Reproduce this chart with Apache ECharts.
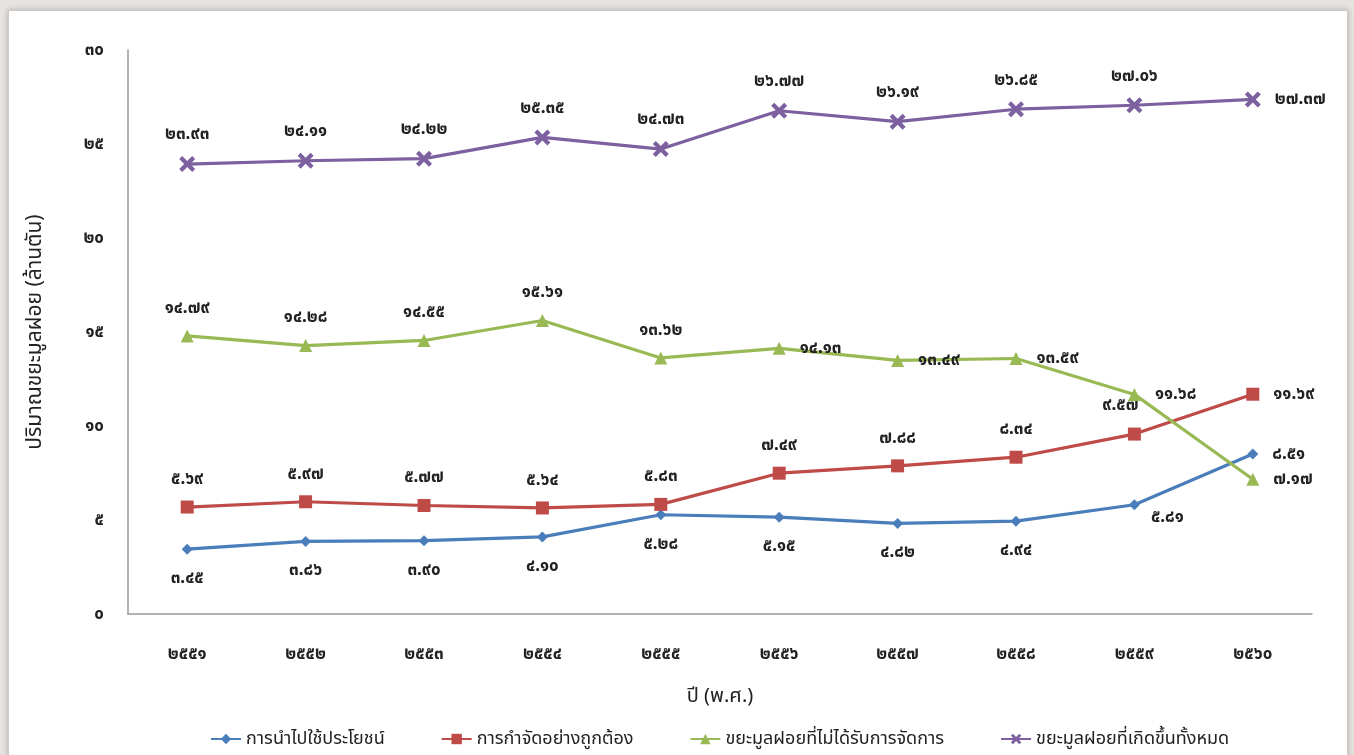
<!DOCTYPE html>
<html>
<head>
<meta charset="utf-8">
<script src="https://cdn.jsdelivr.net/npm/echarts@6/dist/echarts.min.js"></script>
<style>
  html, body { margin: 0; padding: 0; width: 1354px; height: 755px; overflow: hidden; background: #e6e3e0; }
  #frame { position: absolute; left: 8px; top: 10px; width: 1338px; height: 760px; background: #fff;
           border: 1px solid #cfcac5; box-shadow: 0 0 6px rgba(0,0,0,0.25); }
  #chart { position: absolute; left: 0; top: 0; width: 1354px; height: 755px; }
</style>
</head>
<body>
<div id="frame"></div>
<div id="chart"></div>
<script>
const categories = ['๒๕๕๑','๒๕๕๒','๒๕๕๓','๒๕๕๔','๒๕๕๕','๒๕๕๖','๒๕๕๗','๒๕๕๘','๒๕๕๙','๒๕๖๐'];
const seriesNames = ['การนำไปใช้ประโยชน์','การกำจัดอย่างถูกต้อง','ขยะมูลฝอยที่ไม่ได้รับการจัดการ','ขยะมูลฝอยที่เกิดขึ้นทั้งหมด'];
const utilized  = [3.45, 3.86, 3.90, 4.10, 5.28, 5.15, 4.82, 4.94, 5.81, 8.51];
const disposed  = [5.69, 5.97, 5.77, 5.64, 5.83, 7.49, 7.88, 8.34, 9.57, 11.69];
const unmanaged = [14.79, 14.28, 14.55, 15.61, 13.62, 14.13, 13.49, 13.59, 11.68, 7.17];
const total     = [23.93, 24.11, 24.22, 25.35, 24.73, 26.77, 26.19, 26.85, 27.06, 27.37];
const yTicks = [0, 5, 10, 15, 20, 25, 30];

const thaiDigits = ['๐','๑','๒','๓','๔','๕','๖','๗','๘','๙'];
function toThai(s) { return String(s).replace(/[0-9]/g, d => thaiDigits[+d]); }
function fmt(v) { return toThai(v.toFixed(2)); }

const FONT = "'Noto Sans', 'Noto Sans Thai', 'Garuda', 'Loma', sans-serif";
const colors = ['#4a7ebb', '#be4b48', '#98b954', '#7d60a0'];

// label placements (style only)
const labelPos = [
  ['bottom','bottom','bottom','bottom','bottom','bottom','bottom','bottom','bottomRight','right'],
  ['top','top','top','top','top','top','top','top','topLeft','right'],
  ['top','top','top','top','top','right','right','right','right','right'],
  ['top','top','top','top','top','top','top','top','top','right']
];
const posMap = {
  top: {position: 'top', distance: 13},
  bottom: {position: 'bottom', distance: 15},
  right: {position: 'right', distance: 14},
  bottomRight: {position: 'right', offset: [6, 12]},
  topLeft: {position: 'top', offset: [-14, -2], distance: 12}
};

const xPath = 'path://M3,0 L8,5 L13,0 L16,3 L11,8 L16,13 L13,16 L8,11 L3,16 L0,13 L5,8 L0,3 Z';
const symbols = ['diamond', 'rect', 'triangle', xPath];
const symbolSizes = [11, 13, 13, 16];
const dataSets = [utilized, disposed, unmanaged, total];

const series = dataSets.map((arr, si) => ({
  name: seriesNames[si],
  type: 'line',
  data: arr.map((v, i) => ({ value: v, label: Object.assign({}, posMap[labelPos[si][i]]) })),
  symbol: symbols[si],
  symbolSize: symbolSizes[si],
  showAllSymbol: true,
  lineStyle: { width: 3.2, color: colors[si] },
  itemStyle: { color: colors[si] },
  label: {
    show: true,
    formatter: p => fmt(p.value),
    fontFamily: FONT, fontSize: 17, fontWeight: 'bold', color: '#222'
  },
  emphasis: { disabled: true },
  animation: false,
  z: 2 + si
}));

const chart = echarts.init(document.getElementById('chart'), null, { renderer: 'canvas' });
chart.setOption({
  backgroundColor: 'transparent',
  color: colors,
  animation: false,
  grid: { left: 128, right: 42, top: 50, bottom: 141, containLabel: false },
  xAxis: {
    type: 'category',
    data: categories,
    boundaryGap: true,
    name: 'ปี (พ.ศ.)',
    nameLocation: 'middle',
    nameGap: 72,
    nameTextStyle: { fontFamily: FONT, fontSize: 20, color: '#222' },
    axisLine: { lineStyle: { color: '#9a9a9a', width: 1.5 } },
    axisTick: { show: false },
    axisLabel: { margin: 32, fontFamily: FONT, fontSize: 17, fontWeight: 'bold', color: '#222' }
  },
  yAxis: {
    type: 'value',
    min: 0, max: 30, interval: 5,
    name: 'ปริมาณขยะมูลฝอย (ล้านตัน)',
    nameLocation: 'middle',
    nameGap: 82,
    nameRotate: 90,
    nameTextStyle: { fontFamily: FONT, fontSize: 21, color: '#222' },
    axisLine: { show: true, lineStyle: { color: '#9a9a9a', width: 1.5 } },
    axisTick: { show: false },
    splitLine: { show: false },
    axisLabel: {
      margin: 24, fontFamily: FONT, fontSize: 17, fontWeight: 'bold', color: '#222',
      formatter: v => yTicks.indexOf(v) >= 0 ? toThai(v) : ''
    }
  },
  legend: {
    bottom: 2,
    left: 205,
    itemGap: 56,
    itemWidth: 30,
    itemHeight: 13,
    textStyle: { fontFamily: FONT, fontSize: 18, color: '#222' },
    data: seriesNames
  },
  series: series
});
</script>
</body>
</html>
